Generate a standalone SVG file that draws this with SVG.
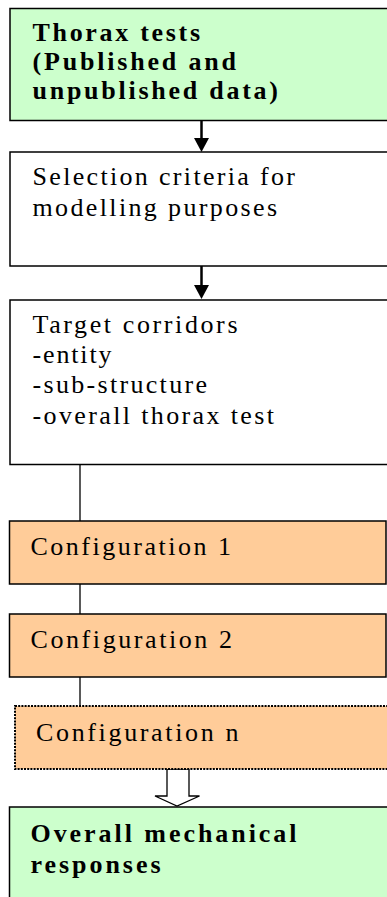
<svg xmlns="http://www.w3.org/2000/svg" width="387" height="897" viewBox="0 0 387 897">
<defs>
<style>
.box{stroke:#000;stroke-width:1.5}
.green{fill:#CCFFCC}
.orange{fill:#FFCC99}
.white{fill:#fff}
.dot{stroke:#000;stroke-width:2;stroke-dasharray:2 1.2}
text{font-family:"Liberation Serif","Times New Roman",serif;font-size:26px;fill:#000}
.b{font-weight:bold}
.thin{stroke:#000;stroke-width:1.3;fill:none}
.thick{stroke:#000;stroke-width:2.5;fill:none}
</style>
</defs>
<rect width="387" height="897" fill="#fff"/>
<g id="connectors">
<line class="thick" x1="201.5" y1="121" x2="201.5" y2="140"/>
<polygon points="194,138 209,138 201.5,152" fill="#000"/>
<line class="thick" x1="201.5" y1="266" x2="201.5" y2="287"/>
<polygon points="194,285 209,285 201.5,299" fill="#000"/>
<line class="thin" x1="80" y1="465" x2="80" y2="521"/>
<line class="thin" x1="80" y1="584" x2="80" y2="614"/>
<line class="thin" x1="80" y1="677" x2="80" y2="706"/>
<polygon points="167,769 189,769 189,796 199.5,796 177,806 155,796 167,796" fill="#fff" stroke="#000" stroke-width="1.3"/>
</g>
<g id="thorax-tests">
<rect class="box green" x="10" y="8.5" width="390" height="112"/>
<text class="b" x="32.5" y="41" textLength="167.5" lengthAdjust="spacing">Thorax tests</text>
<text class="b" x="32.5" y="70" textLength="203.5" lengthAdjust="spacing">(Published and</text>
<text class="b" x="32.5" y="99" textLength="245.5" lengthAdjust="spacing">unpublished data)</text>
</g>
<g id="selection-criteria">
<rect class="box white" x="10" y="152" width="390" height="114"/>
<text x="32.5" y="185" textLength="262.5" lengthAdjust="spacing">Selection criteria for</text>
<text x="32.5" y="216" textLength="244.5" lengthAdjust="spacing">modelling purposes</text>
</g>
<g id="target-corridors">
<rect class="box white" x="10" y="300" width="390" height="164.5"/>
<text x="32.5" y="333" textLength="205" lengthAdjust="spacing">Target corridors</text>
<text x="32.5" y="363" textLength="79" lengthAdjust="spacing">-entity</text>
<text x="32.5" y="393" textLength="174.5" lengthAdjust="spacing">-sub-structure</text>
<text x="32.5" y="424" textLength="241.5" lengthAdjust="spacing">-overall thorax test</text>
</g>
<g id="configuration-1">
<rect class="box orange" x="9.5" y="521" width="376.5" height="63"/>
<text x="30.5" y="555" textLength="200.5" lengthAdjust="spacing">Configuration 1</text>
</g>
<g id="configuration-2">
<rect class="box orange" x="9.5" y="614" width="376.5" height="63"/>
<text x="30.5" y="648" textLength="201.5" lengthAdjust="spacing">Configuration 2</text>
</g>
<g id="configuration-n">
<rect class="dot orange" x="15" y="706" width="390" height="63"/>
<text x="36" y="740.5" textLength="202.5" lengthAdjust="spacing">Configuration n</text>
</g>
<g id="overall-mechanical-responses">
<rect class="box green" x="9.5" y="807" width="390" height="110"/>
<text class="b" x="30.5" y="842" textLength="266" lengthAdjust="spacing">Overall mechanical</text>
<text class="b" x="30.5" y="873" textLength="130" lengthAdjust="spacing">responses</text>
</g>
</svg>
